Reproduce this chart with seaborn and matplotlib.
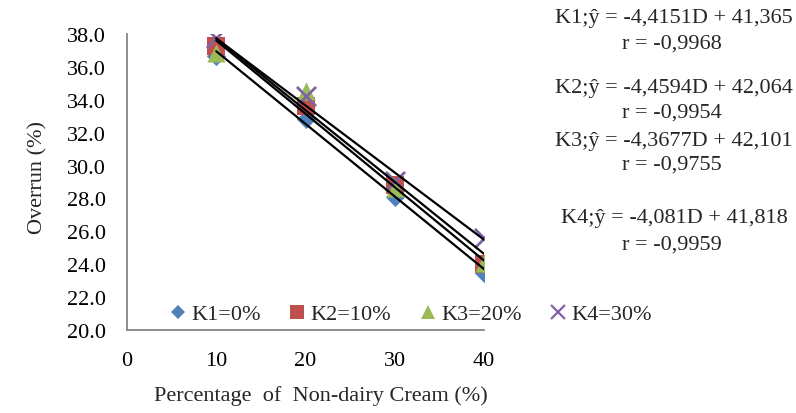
import numpy as np
import pandas as pd
import matplotlib
matplotlib.use("Agg")
import matplotlib.pyplot as plt
import seaborn as sns
from matplotlib.lines import Line2D

# Dane
cream_pct = [10, 20, 30, 40]
k1 = [36.65, 32.85, 28.1, 23.45]
k2 = [37.3, 33.6, 28.8, 24.0]
k3 = [36.85, 34.55, 28.65, 24.1]
k4 = [37.75, 34.25, 29.05, 25.6]

series_names = ["K1=0%", "K2=10%", "K3=20%", "K4=30%"]
slopes = [-4.4151, -4.4594, -4.3677, -4.081]
intercepts = [41.365, 42.064, 42.101, 41.818]
r_values = ["-0,9968", "-0,9954", "-0,9755", "-0,9959"]
eq_texts = ["K1;ŷ = -4,4151D + 41,365", "K2;ŷ = -4,4594D + 42,064",
            "K3;ŷ = -4,3677D + 42,101", "K4;ŷ = -4,081D + 41,818"]
y_ticks = [20.0, 22.0, 24.0, 26.0, 28.0, 30.0, 32.0, 34.0, 36.0, 38.0]
x_ticks = [0, 10, 20, 30, 40]

df = pd.DataFrame({
    "x": cream_pct * 4,
    "y": k1 + k2 + k3 + k4,
    "grupa": np.repeat(series_names, 4),
})

sns.set_style("white")
plt.rcParams["font.family"] = ["Liberation Serif", "DejaVu Serif"]

colors = ["#4F81BD", "#C0504D", "#9BBB59", "#8064A2"]
markers = ["D", "s", "^", "x"]
sizes = [95, 150, 170, 190]
FS = 16

fig = plt.figure(figsize=(7.96, 4.14), dpi=100)
ax = fig.add_axes([127 / 796, 1 - 331 / 414, (484 - 127) / 796, (331 - 35) / 414])

for name, col, mk, sz in zip(series_names, colors, markers, sizes):
    sub = df[df["grupa"] == name]
    if mk == "x":
        sns.scatterplot(data=sub, x="x", y="y", marker=mk, color=col, s=sz,
                        linewidth=2, ax=ax, zorder=3)
    else:
        sns.scatterplot(data=sub, x="x", y="y", marker=mk, color=col, s=sz,
                        linewidth=0, ax=ax, zorder=3)

# Linie trendu z równań (D = 1..4)
d = np.array([1, 4])
for a, b in zip(slopes, intercepts):
    sns.lineplot(x=d * 10, y=a * d + b, color="black", linewidth=1.6, ax=ax, zorder=4)

ax.set_xlim(0, 40)
ax.set_ylim(20, 38)
ax.set_xticks(x_ticks)
ax.set_yticks(y_ticks)
ax.set_yticklabels([f"{v:.1f}" for v in y_ticks])
ax.set_xlabel("")
ax.set_ylabel("")
for s in ["top", "right"]:
    ax.spines[s].set_visible(False)
for s in ["left", "bottom"]:
    ax.spines[s].set_color("#868686")
    ax.spines[s].set_linewidth(1.3)
ax.tick_params(axis="both", direction="out", length=5, width=1.3, color="#868686",
               labelsize=FS, labelcolor="black")
ax.tick_params(axis="y", pad=10)
ax.tick_params(axis="x", pad=10)

handles = [
    Line2D([], [], ls="none", marker=mk, color=col, markersize=ms,
           markeredgewidth=1.6 if mk == "x" else 0)
    for mk, col, ms in zip(markers, colors, [7.3, 10, 10.5, 10])
]
fig.legend(handles, series_names, loc="center left", bbox_to_anchor=(170 / 796, 1 - 315 / 414),
           ncol=4, frameon=False, fontsize=FS, handlelength=0.7, handletextpad=0.25,
           columnspacing=1.3, borderpad=0, borderaxespad=0)

# Równania regresji
eq_y = [18, 89, 142, 219]
r_y = [44, 113, 165, 245]
for eq, r, ey, ry in zip(eq_texts, r_values, eq_y, r_y):
    fig.text(674 / 796, 1 - ey / 414, eq, ha="center", va="center", fontsize=FS)
    fig.text(672 / 796, 1 - ry / 414, f"r = {r}", ha="center", va="center", fontsize=FS)

fig.text(38 / 796, 1 - 178 / 414, "Overrun (%)", rotation=90, ha="center", va="center", fontsize=FS)
fig.text(321 / 796, 1 - 396 / 414, "Percentage  of  Non-dairy Cream (%)", ha="center",
         va="center", fontsize=FS)

fig.savefig("out.png", dpi=100)
